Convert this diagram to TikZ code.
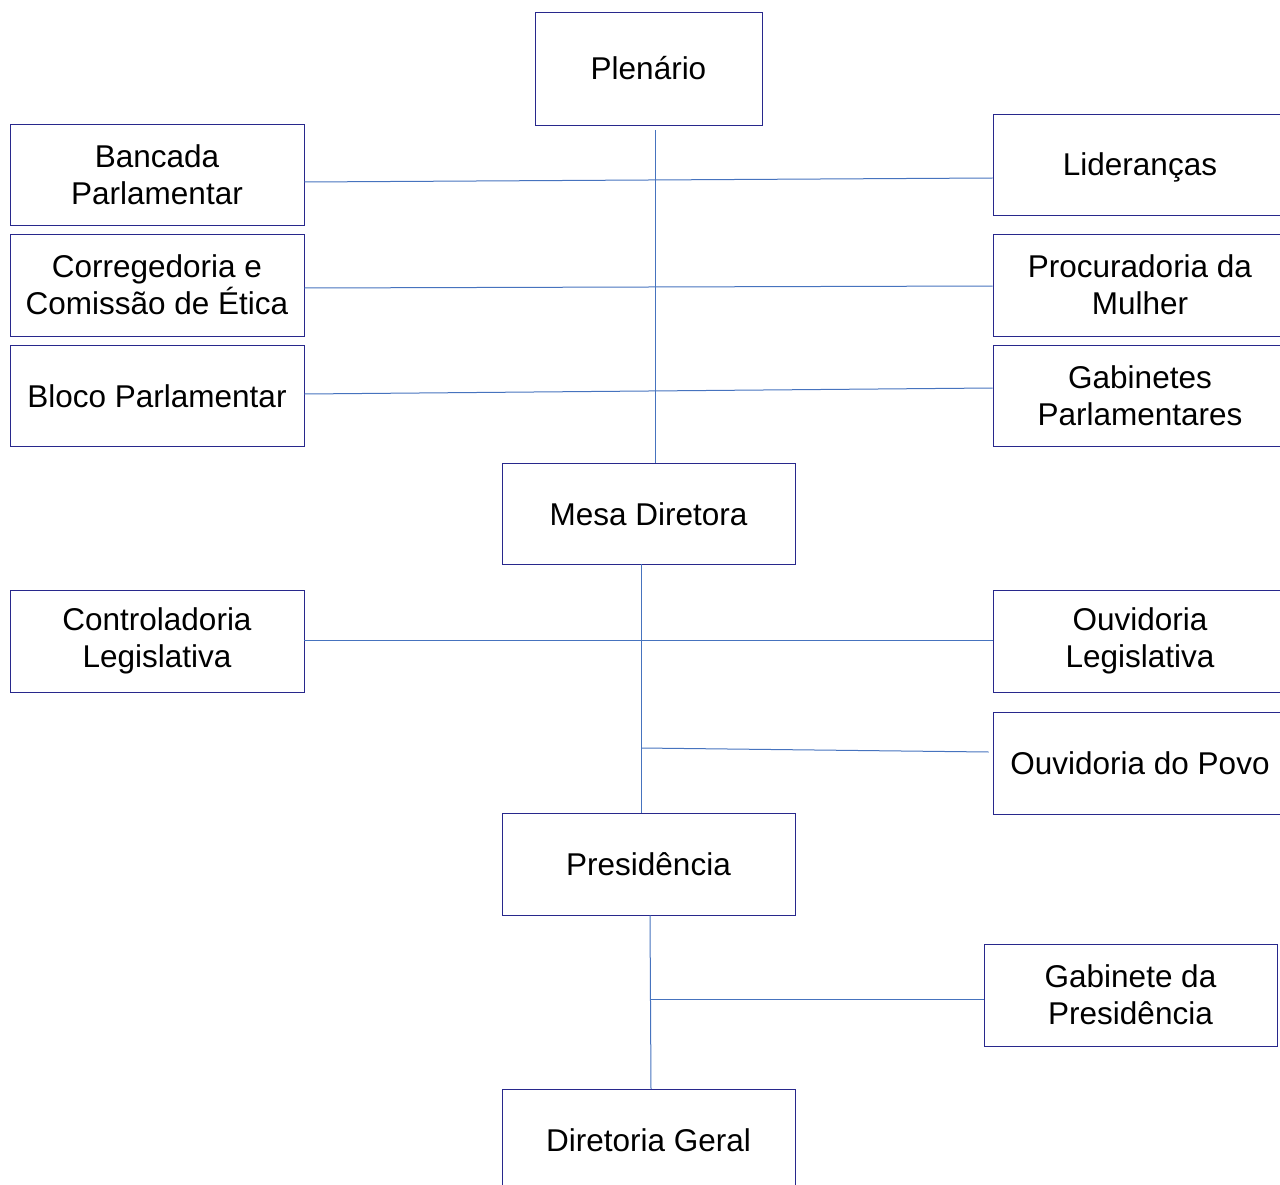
\documentclass[tikz,border=0pt]{standalone}
\usepackage{fontspec}
\setmainfont{Liberation Sans}
\definecolor{boxc}{RGB}{40,40,140}
\definecolor{linec}{RGB}{70,115,190}
\begin{document}
\begin{tikzpicture}[x=1pt,y=-1pt,
  box/.style={draw=boxc,line width=0.9pt,rectangle,align=center,inner sep=0pt,
    font=\fontsize{31.5}{37}\selectfont,text=black},
  single/.style={text height=23pt,text depth=0pt},
  conn/.style={draw=linec,line width=1pt}]
\useasboundingbox (0,0) rectangle (1280,1185);
\clip (0,0) rectangle (1280,1185);
\node[box,single,minimum width=227pt,minimum height=113pt] (plen) at (648.5,68.5) {Plenário};
\node[box,minimum width=294pt,minimum height=101pt] (banc) at (157,175) {Bancada\\Parlamentar};
\node[box,minimum width=294pt,minimum height=102pt] (corr) at (157,285) {Corregedoria e\\Comissão de Ética};
\node[box,single,minimum width=294pt,minimum height=101pt] (bloco) at (157,395.5) {Bloco Parlamentar};
\node[box,single,minimum width=294pt,minimum height=101pt] (lid) at (1140,164.5) {Lideranças};
\node[box,minimum width=294pt,minimum height=102pt] (proc) at (1140,285) {Procuradoria da\\Mulher};
\node[box,minimum width=294pt,minimum height=101pt] (gabp) at (1140,395.5) {Gabinetes\\Parlamentares};
\node[box,single,minimum width=293pt,minimum height=101pt] (mesa) at (648.5,513.5) {Mesa Diretora};
\node[box,minimum width=294pt,minimum height=102pt] (contr) at (157,641) {Controladoria\\Legislativa};
\node[box,minimum width=294pt,minimum height=102pt] (ouvl) at (1140,641) {Ouvidoria\\Legislativa};
\node[box,single,minimum width=294pt,minimum height=102pt] (ouvp) at (1140,763) {Ouvidoria do Povo};
\node[box,single,minimum width=293pt,minimum height=102pt] (pres) at (648.5,864) {Presidência};
\node[box,minimum width=293pt,minimum height=102pt] (gabpres) at (1130.5,995) {Gabinete da\\Presidência};
\node[box,single,minimum width=293pt,minimum height=101pt] (dir) at (648.5,1140) {Diretoria Geral};
\coordinate (j1) at (641,748);
\coordinate (j2) at (651,999);
\draw[conn] ([shift={(6.5pt,-5pt)}]plen.south) -- ([xshift=6.5pt]mesa.north);
\draw[conn] ([yshift=-7pt]banc.east) -- ([yshift=-13.5pt]lid.west);
\draw[conn] ([yshift=-3pt]corr.east) -- ([yshift=-1pt]proc.west);
\draw[conn] ([yshift=1.5pt]bloco.east) -- ([yshift=7.5pt]gabp.west);
\draw[conn] ([xshift=-7.5pt]mesa.south) -- ([xshift=-7.5pt]pres.north);
\draw[conn] ([yshift=1pt]contr.east) -- ([yshift=1pt]ouvl.west);
\draw[conn] (j1) -- ([shift={(-4pt,11pt)}]ouvp.west);
\draw[conn] ([xshift=1.5pt]pres.south) -- ([xshift=2.5pt]dir.north);
\draw[conn] (j2) -- ([yshift=-4pt]gabpres.west);
\end{tikzpicture}
\end{document}
